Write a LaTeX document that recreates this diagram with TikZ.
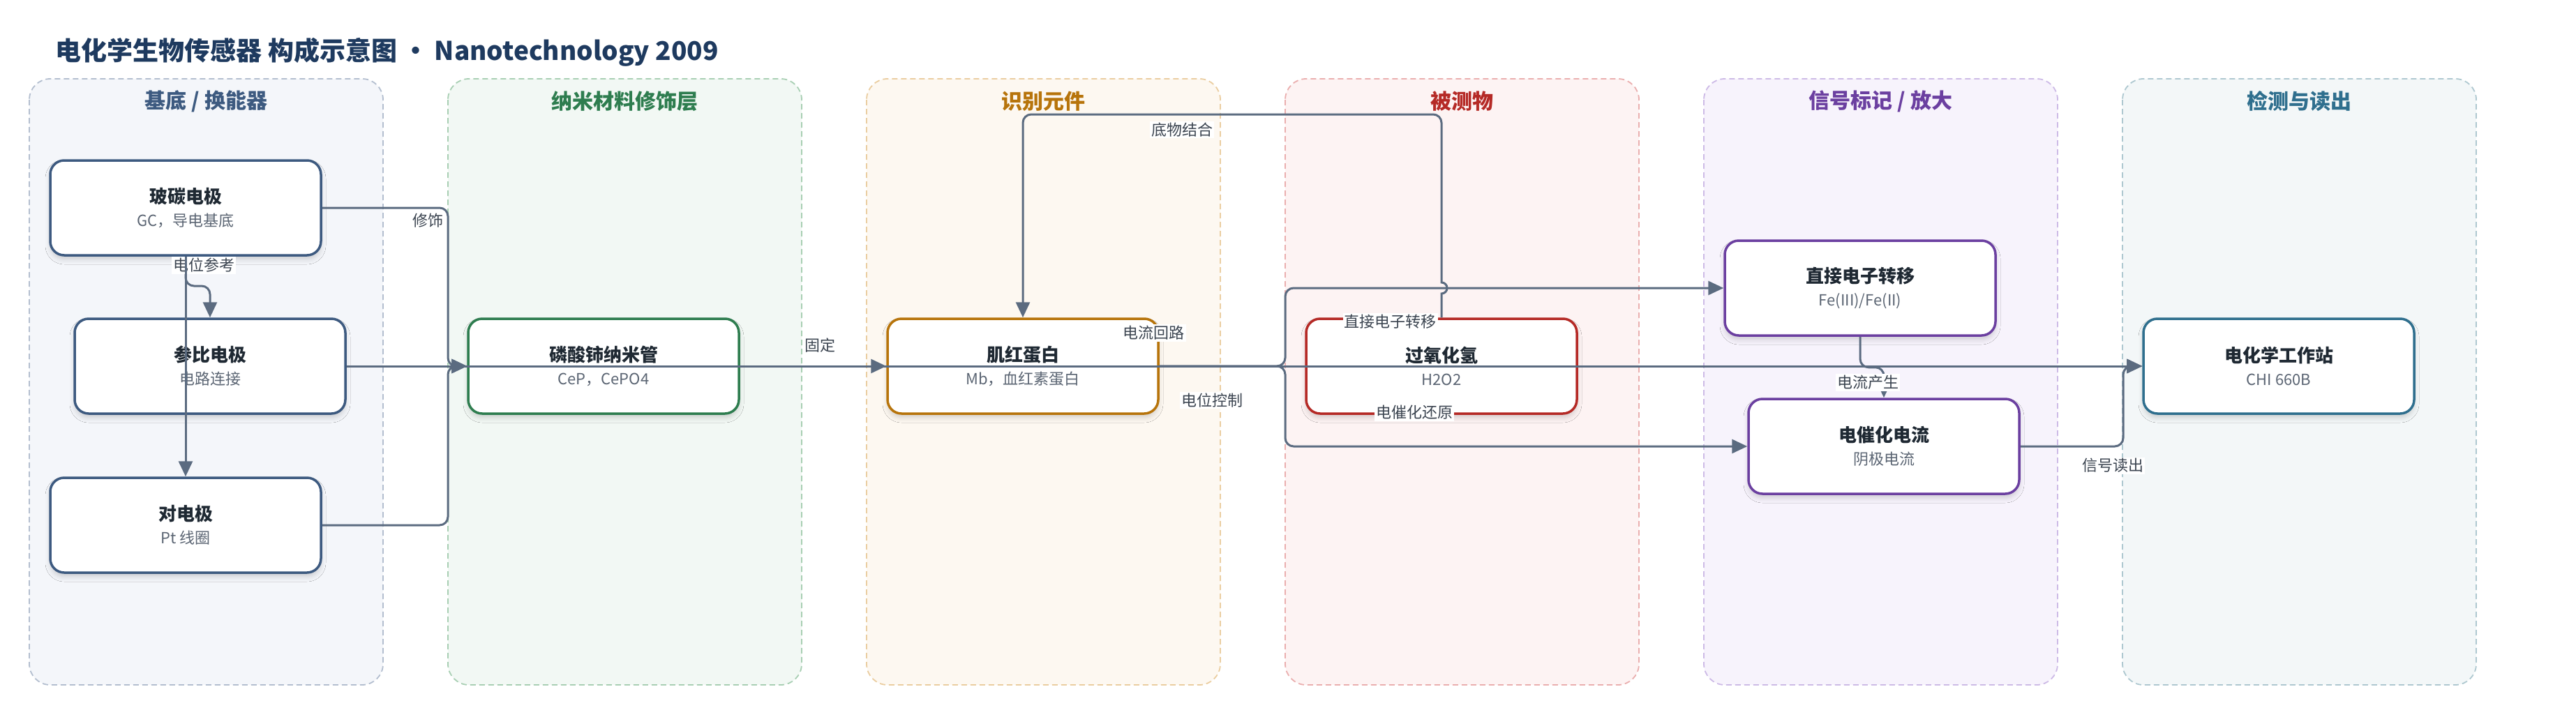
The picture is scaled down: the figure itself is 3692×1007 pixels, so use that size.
\documentclass[tikz,border=0pt]{standalone}
\usepackage{fontspec}
\setmainfont{Noto Sans CJK SC}
\usetikzlibrary{arrows.meta,shadows.blur}

\definecolor{inkc}{HTML}{1F2933}
\definecolor{subc}{HTML}{5B6573}
\definecolor{labc}{HTML}{3B4450}
\definecolor{edgec}{HTML}{5B6B80}
\definecolor{headc}{HTML}{1E3A5F}
\definecolor{bluec}{HTML}{3D5A80}
\definecolor{greenc}{HTML}{2E7D4F}
\definecolor{orangec}{HTML}{B7740B}
\definecolor{redc}{HTML}{B52A26}
\definecolor{purplec}{HTML}{6B3FA0}
\definecolor{tealc}{HTML}{2F6F8E}
\definecolor{laneAf}{HTML}{F4F6FA}\definecolor{laneAd}{HTML}{B3BECF}
\definecolor{laneBf}{HTML}{F2F8F4}\definecolor{laneBd}{HTML}{A8CFB3}
\definecolor{laneCf}{HTML}{FDF8F1}\definecolor{laneCd}{HTML}{EACDA0}
\definecolor{laneDf}{HTML}{FDF3F3}\definecolor{laneDd}{HTML}{EAAEAE}
\definecolor{laneEf}{HTML}{F7F3FC}\definecolor{laneEd}{HTML}{CDBAE6}
\definecolor{laneFf}{HTML}{F3F7F8}\definecolor{laneFd}{HTML}{AEC8D0}

\newcommand{\boxtext}[2]{{\fontsize{26}{33}\selectfont\bfseries\color{inkc}#1}\\{\color{subc}#2}}

\begin{document}
\begin{tikzpicture}[x=1pt, y=-1pt, >={Triangle[length=22pt, width=20pt]},
  box/.style={rectangle, draw=#1, rounded corners=20pt, line width=3.5pt, fill=white,
    minimum width=388pt, minimum height=136pt, align=center, font=\fontsize{22}{33}\selectfont,
    blur shadow={shadow xshift=0pt, shadow yshift=-6pt, shadow blur radius=7pt, shadow opacity=16}},
  lane/.style={line width=1.8pt, dash pattern=on 8pt off 5pt, rounded corners=30pt},
  lanetitle/.style={font=\fontsize{30}{36}\selectfont\bfseries},
  flow/.style={->, draw=edgec, line width=3pt, rounded corners=12pt},
  elabel/.style={fill=white, inner sep=2pt, sharp corners, text=labc, font=\fontsize{22}{26}\selectfont}]

  \useasboundingbox (0,0) rectangle (3692,1007);

  \node[anchor=west, text=headc, font=\fontsize{37}{44}\selectfont\bfseries] (head) at (76,75)
    {电化学生物传感器 构成示意图 · Nanotechnology 2009};

  % lanes
  \draw[lane, draw=laneAd, fill=laneAf] (42,113) rectangle (549,982);
  \draw[lane, draw=laneBd, fill=laneBf] (642,113) rectangle (1149,982);
  \draw[lane, draw=laneCd, fill=laneCf] (1242,113) rectangle (1749,982);
  \draw[lane, draw=laneDd, fill=laneDf] (1842,113) rectangle (2349,982);
  \draw[lane, draw=laneEd, fill=laneEf] (2442,113) rectangle (2949,982);
  \draw[lane, draw=laneFd, fill=laneFf] (3042,113) rectangle (3549,982);

  \node[lanetitle, text=bluec] (laneA) at (295.5,145) {基底 / 换能器};
  \node[lanetitle, text=greenc] (laneB) at (895.5,145) {纳米材料修饰层};
  \node[lanetitle, text=orangec] (laneC) at (1495.5,145) {识别元件};
  \node[lanetitle, text=redc] (laneD) at (2095.5,145) {被测物};
  \node[lanetitle, text=purplec] (laneE) at (2695.5,145) {信号标记 / 放大};
  \node[lanetitle, text=tealc] (laneF) at (3295.5,145) {检测与读出};

  % nodes
  \node[box=bluec] (gc) at (266,298) {\boxtext{玻碳电极}{GC，导电基底}};
  \node[box=bluec] (ref) at (301,525) {\boxtext{参比电极}{电路连接}};
  \node[box=bluec] (ce) at (266,753) {\boxtext{对电极}{Pt 线圈}};
  \node[box=greenc] (cep) at (865,525) {\boxtext{磷酸铈纳米管}{CeP，CePO4}};
  \node[box=orangec] (mb) at (1466,525) {\boxtext{肌红蛋白}{Mb，血红素蛋白}};
  \node[box=redc] (hp) at (2066,525) {\boxtext{过氧化氢}{H2O2}};
  \node[box=purplec] (det) at (2666,413) {\boxtext{直接电子转移}{Fe(III)/Fe(II)}};
  \node[box=purplec] (ecc) at (2700,640) {\boxtext{电催化电流}{阴极电流}};
  \node[box=tealc] (chi) at (3266,525) {\boxtext{电化学工作站}{CHI 660B}};

  % connectors
  \draw[flow] (gc.south) -- node[elabel, pos=0.3, xshift=26pt] {电位参考} (266,410) -| (ref.north);
  \draw[flow] (gc.south) -- (ce.north);
  \draw[flow] (gc.east) -- (642,298) -- node[elabel, pos=0.08, left, xshift=-3pt] {修饰} (642,525) -- (cep.west);
  \draw[flow] (ref.east) -- (cep.west);
  \draw[flow] (ce.east) -- (642,753) -- (642,525) -- (cep.west);

  \draw[flow] (cep.east) -- node[elabel, above=16pt, xshift=10pt] {固定} (mb.west);
  \draw[flow] (hp.north) [sharp corners] -- (2066,421) arc[start angle=90, end angle=-90, radius=8]
    [rounded corners=12pt] -- (2066,164) -- node[elabel, pos=0.62, below=8pt] {底物结合} (1466,164) -- (mb.north);

  \draw[flow] (ref.east) -- node[elabel, pos=0.482, below=35pt] {电位控制} (chi.west);
  \draw[flow] (mb.east) -- node[elabel, pos=0, above=34pt, xshift=-8pt] {电流回路} (chi.west);
  \draw[flow] (mb.east) -- (1842,525) -- (1842,413) -- node[elabel, pos=0.24, below=34pt] {直接电子转移} (det.west);
  \draw[flow] (mb.east) -- (1842,525) -- (1842,640) -- node[elabel, pos=0.28, above=35pt] {电催化还原} (ecc.west);

  \draw[flow] (det.south) -- ++(0,44) -| node[elabel, pos=0.75, xshift=-23pt] {电流产生} (ecc.north);
  \draw[flow] (ecc.east) -- node[elabel, pos=0.9, below=14pt] {信号读出} (3043,640) -- (3043,525) -- (chi.west);
\end{tikzpicture}
\end{document}
